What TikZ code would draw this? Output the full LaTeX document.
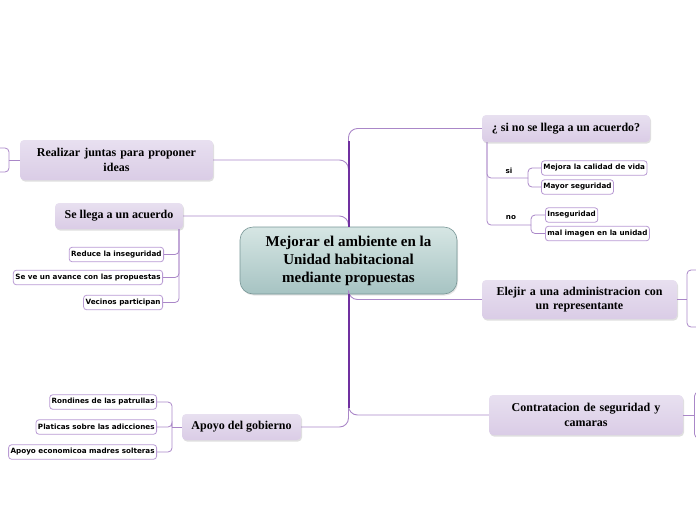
\documentclass[tikz,border=0pt]{standalone}
\usepackage{fontspec}
\setmainfont{Liberation Serif}
\newfontfamily\leaffont{DejaVu Sans}
\usetikzlibrary{shadows}
\definecolor{trunkc}{RGB}{112,48,160}
\definecolor{branchc}{RGB}{170,135,200}
\definecolor{leafborder}{RGB}{185,155,212}
\definecolor{topictop}{RGB}{232,224,240}
\definecolor{topicbot}{RGB}{218,204,230}
\definecolor{maintop}{RGB}{214,230,228}
\definecolor{mainbot}{RGB}{166,195,194}
\definecolor{mainborder}{RGB}{120,150,150}
\tikzset{
  mainbox/.style={rounded corners=13pt, draw=mainborder, line width=0.6pt,
    top color=maintop, bottom color=mainbot, align=center,
    font=\fontsize{15}{18}\selectfont\bfseries, inner sep=2pt,
    drop shadow={opacity=0.2, shadow xshift=1pt, shadow yshift=-1.5pt}},
  topicbox/.style={rounded corners=4pt, top color=topictop, bottom color=topicbot,
    align=center, font=\fontsize{12}{14.5}\selectfont\bfseries, inner sep=2pt,
    drop shadow={opacity=0.25, shadow xshift=1pt, shadow yshift=-1.5pt}},
  leafbox/.style={rounded corners=3pt, draw=leafborder, fill=white, line width=0.8pt,
    font=\leaffont\fontsize{7.2}{8.5}\selectfont\bfseries, inner sep=2pt, minimum height=14.5pt},
  lbl/.style={font=\leaffont\fontsize{7.2}{8.5}\selectfont\bfseries, inner sep=0pt},
  branch/.style={draw=branchc, line width=0.9pt, rounded corners=9pt},
  twig/.style={draw=branchc, line width=0.8pt, rounded corners=4pt},
  trunk/.style={draw=trunkc, line width=2pt},
}
\begin{document}
\begin{tikzpicture}[x=1pt,y=-1pt]
\useasboundingbox (0,0) rectangle (696,520);
% central
\node[mainbox, minimum width=217pt, minimum height=67pt] (main) at (348.5,260.5)
  {Mejorar el ambiente en la\\Unidad habitacional\\mediante propuestas};
% topics
\node[topicbox, minimum width=193pt, minimum height=40pt, text width=189pt] (rj) at (116.5,160) {Realizar juntas para proponer\\ideas};
\node[topicbox, minimum width=128pt, minimum height=26pt] (sl) at (119,216) {Se llega a un acuerdo};
\node[topicbox, minimum width=168pt, minimum height=27pt] (q) at (566,128.5) {¿ si no se llega a un acuerdo?};
\node[topicbox, minimum width=195pt, minimum height=39pt, text width=191pt] (el) at (579.5,299.5) {Elejir a una administracion con\\un representante};
\node[topicbox, minimum width=194pt, minimum height=40pt, text width=190pt] (ct) at (586,415) {Contratacion de seguridad y\\camaras};
\node[topicbox, minimum width=119pt, minimum height=26pt] (ap) at (241.5,427) {Apoyo del gobierno};
% leaves of "Se llega"
\node[leafbox, anchor=east] (r1) at (164,254.5) {Reduce la inseguridad};
\node[leafbox, anchor=east] (r2) at (163,277.5) {Se ve un avance con las propuestas};
\node[leafbox, anchor=east] (r3) at (163,302.5) {Vecinos participan};
% leaves of question
\node[lbl] (si) at (509,171) {si};
\node[lbl] (no) at (511,218) {no};
\node[leafbox, anchor=west] (m1) at (541,168) {Mejora la calidad de vida};
\node[leafbox, anchor=west] (m2) at (541,187) {Mayor seguridad};
\node[leafbox, anchor=west] (n1) at (545,215) {Inseguridad};
\node[leafbox, anchor=west] (n2) at (545,233.5) {mal imagen en la unidad};
% leaves of Apoyo
\node[leafbox, anchor=east] (a1) at (157,402) {Rondines de las patrullas};
\node[leafbox, anchor=east] (a2) at (157,427) {Platicas sobre las adicciones};
\node[leafbox, anchor=east] (a3) at (157,452) {Apoyo economicoa madres solteras};
% main branches
\draw[branch] (q.west) -| (main.north);
\draw[branch] (rj.east) -| (main.north);
\draw[branch] (sl.east) -| (main.north);
\draw[branch] (el.west) -| (main.south);
\draw[branch] (ct.west) -| (main.south);
\draw[branch] (ap.east) -| (main.south);
\draw[trunk] (main.north) -- ++(0,-86);
\draw[trunk] (main.south) -- ++(0,114);
% Se llega twigs
\coordinate (slb) at (179,229);
\draw[twig] (slb) |- (r1.east);
\draw[twig] (slb) |- (r2.east);
\draw[twig] (slb) |- (r3.east);
% question twigs
\coordinate (qb) at (487,142);
\coordinate (sij) at (528,178);
\coordinate (noj) at (531,225);
\draw[twig] (qb) |- (sij);
\draw[twig] (qb) |- (noj);
\draw[twig] (sij) |- (m1.west);
\draw[twig] (sij) |- (m2.west);
\draw[twig] (noj) |- (n1.west);
\draw[twig] (noj) |- (n2.west);
% Apoyo twigs
\coordinate (apj) at (172,427);
\draw[twig] (ap.west) -- (apj);
\draw[twig] (apj) |- (a1.east);
\draw[twig] (apj) |- (a2.east);
\draw[twig] (apj) |- (a3.east);
% partial brackets at the edges
\coordinate (rjj) at (9,160);
\coordinate (rju) at (-5,148);
\coordinate (rjd) at (-5,172);
\draw[twig] (rj.west) -- (rjj);
\draw[twig] (rjj) |- (rju);
\draw[twig] (rjj) |- (rjd);
\coordinate (elj) at (687,299.5);
\coordinate (elu) at (705,270);
\coordinate (eld) at (705,327);
\draw[twig] (el.east) -- (elj);
\draw[twig] (elj) |- (elu);
\draw[twig] (elj) |- (eld);
\coordinate (ctj) at (694.5,415);
\coordinate (ctu) at (710,392);
\coordinate (ctd) at (710,438);
\draw[twig] (ct.east) -- (ctj);
\draw[twig] (ctj) |- (ctu);
\draw[twig] (ctj) |- (ctd);
\end{tikzpicture}
\end{document}
